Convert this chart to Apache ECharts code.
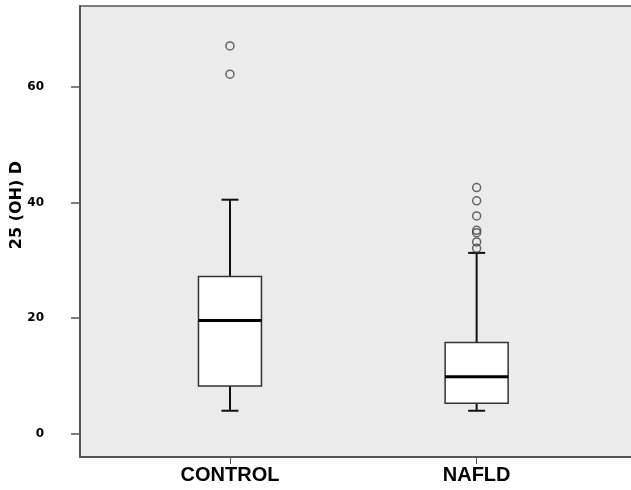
<!DOCTYPE html>
<html>
<head>
<meta charset="utf-8">
<script src="https://cdn.jsdelivr.net/npm/echarts@6/dist/echarts.min.js"></script>
<style>
html,body{margin:0;padding:0;background:#fff;}
#chart{width:631px;height:490px;}
</style>
</head>
<body>
<div id="chart"></div>
<script>
const categories = ['CONTROL', 'NAFLD'];
const whiskerLow = [4.0, 4.0];
const q1Values = [8.3, 5.3];
const medianValues = [19.6, 9.9];
const q3Values = [27.2, 15.8];
const whiskerHigh = [40.5, 31.3];
const outliersControl = [67.1, 62.2];
const outliersNafld = [42.6, 40.3, 37.7, 35.2, 34.8, 33.2, 32.1];
const yTicks = [0, 20, 40, 60];
const yTitle = '25 (OH) D';

const boxData = categories.map((c, i) => [i + 1, whiskerLow[i], q1Values[i], medianValues[i], q3Values[i], whiskerHigh[i]]);
const outlierData = [];
outliersControl.forEach(v => outlierData.push([1, v]));
outliersNafld.forEach(v => outlierData.push([2, v]));

const BOX_W = 63, CAP_W = 17;

function renderBox(params, api) {
  const x = api.value(0);
  const pLow = api.coord([x, api.value(1)]);
  const pQ1 = api.coord([x, api.value(2)]);
  const pMed = api.coord([x, api.value(3)]);
  const pQ3 = api.coord([x, api.value(4)]);
  const pHigh = api.coord([x, api.value(5)]);
  const cx = pQ1[0];
  const lineStyle = {stroke: '#111', lineWidth: 2};
  return {
    type: 'group',
    children: [
      {type: 'line', shape: {x1: cx, y1: pHigh[1], x2: cx, y2: pQ3[1]}, style: lineStyle},
      {type: 'line', shape: {x1: cx, y1: pQ1[1], x2: cx, y2: pLow[1]}, style: lineStyle},
      {type: 'line', shape: {x1: cx - CAP_W / 2, y1: pHigh[1], x2: cx + CAP_W / 2, y2: pHigh[1]}, style: lineStyle},
      {type: 'line', shape: {x1: cx - CAP_W / 2, y1: pLow[1], x2: cx + CAP_W / 2, y2: pLow[1]}, style: lineStyle},
      {type: 'rect', shape: {x: cx - BOX_W / 2, y: pQ3[1], width: BOX_W, height: pQ1[1] - pQ3[1]},
        style: {fill: '#fff', stroke: '#333', lineWidth: 1.5}},
      {type: 'line', shape: {x1: cx - BOX_W / 2, y1: pMed[1], x2: cx + BOX_W / 2, y2: pMed[1]},
        style: {stroke: '#000', lineWidth: 3}}
    ]
  };
}

const chart = echarts.init(document.getElementById('chart'), null, {renderer: 'canvas'});
chart.setOption({
  animation: false,
  backgroundColor: '#fff',
  grid: {left: 80, top: 6, right: -4, bottom: 33, show: true, backgroundColor: '#ebebeb',
    borderColor: '#555', borderWidth: 1.5, containLabel: false, outerBoundsMode: 'none'},
  graphic: [{
    type: 'text', x: 17, y: 205, rotation: Math.PI / 2,
    style: {text: yTitle, fontFamily: 'DejaVu Sans', fontWeight: 'bold', fontSize: 16, fill: '#000',
      align: 'center', verticalAlign: 'middle'}
  }],
  xAxis: {
    type: 'value', min: 0.392, max: 2.642,
    splitLine: {show: false},
    axisLine: {show: true, onZero: false, lineStyle: {color: '#555', width: 2}},
    axisTick: {show: true, customValues: [1, 2], length: 7, lineStyle: {color: '#555', width: 1}},
    axisLabel: {customValues: [1, 2], margin: 8, formatter: v => categories[Math.round(v) - 1] || '',
      fontFamily: 'Liberation Sans', fontWeight: 'bold', fontSize: 20, color: '#000'}
  },
  yAxis: {
    type: 'value', min: -4, max: 74,
    splitLine: {show: false},
    axisLine: {show: true, lineStyle: {color: '#555', width: 2}},
    axisTick: {show: true, customValues: yTicks, length: 9, lineStyle: {color: '#555', width: 1.5}},
    axisLabel: {customValues: yTicks, margin: 36, padding: [6, 0, 0, 0],
      fontFamily: 'DejaVu Sans', fontWeight: 'bold', fontSize: 12, color: '#000'}
  },
  series: [
    {type: 'custom', renderItem: renderBox, data: boxData, encode: {x: 0, y: [1, 2, 3, 4, 5]}, z: 2},
    {type: 'scatter', data: outlierData, symbol: 'circle', symbolSize: 8,
      itemStyle: {color: 'rgba(0,0,0,0)', borderColor: '#444', borderWidth: 1.5}, z: 3}
  ]
});
</script>
</body>
</html>
